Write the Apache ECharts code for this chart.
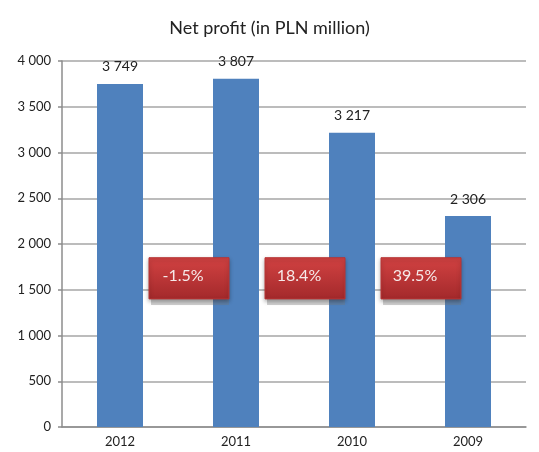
<!DOCTYPE html>
<html>
<head>
<meta charset="utf-8">
<script src="https://cdn.jsdelivr.net/npm/echarts@6/dist/echarts.min.js"></script>
<style>
  html, body { margin: 0; padding: 0; background: #fff; }
  #chart { width: 539px; height: 452px; }
</style>
</head>
<body>
<div id="chart"></div>
<script>
const years = ['2012', '2011', '2010', '2009']
const profit = [3749, 3807, 3217, 2306]
// change between neighbouring years, shown in red boxes
const changes = ['-1.5%', '18.4%', '39.5%']
const boxTop = 1850
const boxBottom = 1400

const fmt = v => String(v).replace(/\B(?=(\d{3})+(?!\d))/g, ' ')
const font = 'Lato, "Open Sans", sans-serif'

const chart = echarts.init(document.getElementById('chart'))
chart.setOption({
  backgroundColor: '#fff',
  animation: false,
  title: {
    text: 'Net profit (in PLN million)',
    left: 'center',
    top: 14,
    textStyle: { fontFamily: font, fontSize: 18, fontWeight: 'normal', color: '#222' },
  },
  grid: { top: 61, bottom: 25, left: 62, right: 13 },
  xAxis: {
    type: 'category',
    data: years,
    axisLine: { lineStyle: { color: '#8c8c8c', width: 1.5 } },
    axisTick: { length: 5, lineStyle: { color: '#8c8c8c', width: 1.5 } },
    axisLabel: { color: '#222', fontSize: 13, fontFamily: font, margin: 8 },
  },
  yAxis: {
    type: 'value',
    min: 0,
    max: 4000,
    interval: 500,
    axisLine: { show: true, lineStyle: { color: '#8c8c8c', width: 1.5 } },
    axisTick: { show: true, length: 4, lineStyle: { color: '#8c8c8c', width: 1.5 } },
    splitLine: { lineStyle: { color: '#a6a6a6', width: 1.5 } },
    axisLabel: { color: '#222', fontSize: 13, fontFamily: font, margin: 11, formatter: fmt },
  },
  series: [
    {
      type: 'bar',
      data: profit,
      barWidth: 46,
      itemStyle: { color: '#4f81bd' },
      label: {
        show: true,
        position: 'top',
        distance: 10,
        color: '#222',
        fontSize: 14,
        fontFamily: font,
        formatter: p => fmt(p.value),
      },
      z: 2,
    },
    {
      type: 'custom',
      data: changes.map((c, i) => [i, boxTop, boxBottom]),
      z: 5,
      renderItem: (params, api) => {
        const i = api.value(0)
        const a = api.coord([i, api.value(1)])
        const b = api.coord([i + 1, api.value(2)])
        const cx = (a[0] + b[0]) / 2 + 11
        const w = 80
        const h = b[1] - a[1]
        return {
          type: 'group',
          children: [
            {
              type: 'rect',
              shape: { x: cx - w / 2 + 2, y: a[1] + h, width: w - 2, height: 6 },
              style: { fill: 'rgba(120,120,120,0.35)' },
            },
            {
              type: 'rect',
              shape: { x: cx - w / 2, y: a[1], width: w, height: h },
              style: {
                fill: new echarts.graphic.LinearGradient(0, 0, 0, 1, [
                  { offset: 0, color: '#d24242' },
                  { offset: 1, color: '#a3292b' },
                ]),
                stroke: '#b83434',
                lineWidth: 1,
                shadowBlur: 4,
                shadowColor: 'rgba(0,0,0,0.3)',
                shadowOffsetY: 2,
              },
            },
            {
              type: 'text',
              style: {
                x: cx - 6,
                y: a[1] + h / 2 - 2,
                text: changes[params.dataIndex],
                fill: '#f6eaea',
                fontSize: 16,
                fontFamily: font,
                align: 'center',
                verticalAlign: 'middle',
              },
            },
          ],
        }
      },
    },
  ],
})
</script>
</body>
</html>
